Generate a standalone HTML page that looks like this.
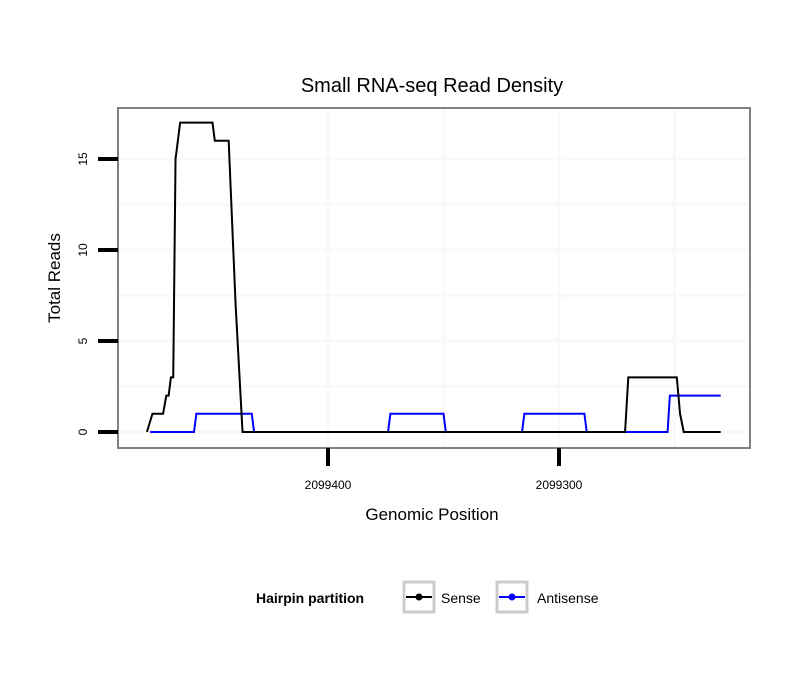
<!DOCTYPE html>
<html><head><meta charset="utf-8">
<style>body{margin:0;background:#fff;font-family:"Liberation Sans",sans-serif}</style></head>
<body>
<svg id="chart" width="810" height="690" xmlns="http://www.w3.org/2000/svg">
<text x="432" y="92" text-anchor="middle" font-size="20">Small RNA-seq Read Density</text>
<rect x="118" y="108" width="632" height="340" fill="#fff"/>
<g id="grid"></g>
<g id="series"></g>
<rect x="118" y="108" width="632" height="340" fill="none" stroke="#808080" stroke-width="2"/>
<g id="axes"></g>
<text x="432" y="520" text-anchor="middle" font-size="17">Genomic Position</text>
<text transform="translate(60,278) rotate(-90)" text-anchor="middle" font-size="17">Total Reads</text>
<g>
<text x="256" y="603" font-size="14" font-weight="bold">Hairpin partition</text>
<g>
<rect x="404" y="582" width="30" height="30" fill="#fff" stroke="#ccc" stroke-width="3"/>
<line x1="406" y1="597" x2="432" y2="597" stroke="#000" stroke-width="2"/><circle cx="419" cy="597" r="3.5" fill="#000"/>
<text x="441" y="603" font-size="14">Sense</text></g>
<g>
<rect x="497" y="582" width="30" height="30" fill="#fff" stroke="#ccc" stroke-width="3"/>
<line x1="499" y1="597" x2="525" y2="597" stroke="#00f" stroke-width="2"/><circle cx="512" cy="597" r="3.5" fill="#00f"/>
<text x="537" y="603" font-size="14">Antisense</text></g>
</g>
</svg>
<script>
const xTicks = [2099400, 2099300];
const xGridMinor = [2099350, 2099250];
const yTicks = [0, 5, 10, 15];
const yGridMinor = [2.5, 7.5, 12.5];
const sensePos = [2099478.4,2099476,2099471.4,2099470,2099469,2099468,2099467,2099466,2099465,2099464,2099450,2099449,2099443,2099442,2099440,2099437,2099271.4,2099270,2099249,2099247.6,2099246,2099230];
const senseVal = [0,1,1,2,2,3,3,15,16,17,17,16,16,13,7,0,0,3,3,1,0,0];
const antiPos = [2099477,2099458,2099457,2099433,2099432,2099374,2099373,2099350,2099349,2099316,2099315,2099289,2099288,2099253,2099252,2099230];
const antiVal = [0,0,1,1,0,0,1,1,0,0,1,1,0,0,2,2];
const NS="http://www.w3.org/2000/svg";
function sx(p){return 328+(2099400-p)*2.31;}
function sy(v){return 432-v*18.2;}
function mk(tag,attrs,parent){const e=document.createElementNS(NS,tag);for(const k in attrs)e.setAttribute(k,attrs[k]);parent.appendChild(e);return e;}
const grid=document.getElementById('grid'),axes=document.getElementById('axes'),series=document.getElementById('series');
yGridMinor.concat(yTicks).forEach(v=>{const l=mk('line',{x1:118,x2:750,y1:sy(v),y2:sy(v),stroke:'#f9f9f9','stroke-width':3},grid);

});
xGridMinor.concat(xTicks).forEach(p=>{const l=mk('line',{x1:sx(p),x2:sx(p),y1:108,y2:448,stroke:'#f9f9f9','stroke-width':3},grid);

});
yTicks.forEach(v=>{const t=mk('line',{x1:98,x2:118,y1:sy(v),y2:sy(v),stroke:'#000','stroke-width':4},axes);


const tx=mk('text',{transform:`translate(87,${sy(v)}) rotate(-90)`,'text-anchor':'middle','font-size':12},axes);tx.textContent=v;

});
xTicks.forEach(p=>{const t=mk('line',{x1:sx(p),x2:sx(p),y1:448,y2:466,stroke:'#000','stroke-width':4},axes);


const tx=mk('text',{x:sx(p),y:489,'text-anchor':'middle','font-size':12},axes);tx.textContent=p;

});
function line(pos,val,color,name){const pts=pos.map((p,i)=>sx(p)+','+sy(val[i])).join(' ');
const pl=mk('polyline',{points:pts,fill:'none',stroke:color,'stroke-width':2},series);

}
line(antiPos,antiVal,'#00f','antisense-line');
line(sensePos,senseVal,'#000','sense-line');
</script>
</body></html>
